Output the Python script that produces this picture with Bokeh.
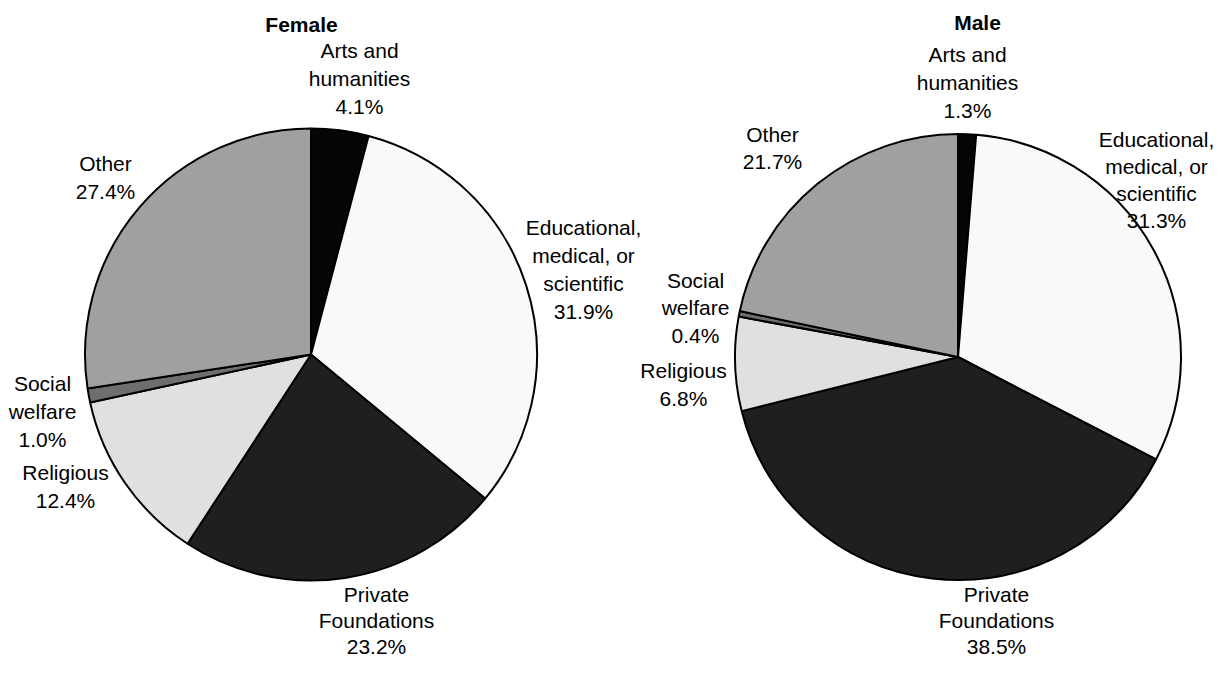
import math
from bokeh.plotting import figure
from bokeh.models import Range1d, ColumnDataSource
from bokeh.embed import file_html
from bokeh.resources import INLINE
from bokeh.core.properties import value

# ---- data ----
categories = ["Arts and humanities", "Educational, medical, or scientific",
              "Private Foundations", "Religious", "Social welfare", "Other"]
label_lines = [["Arts and", "humanities"],
               ["Educational,", "medical, or", "scientific"],
               ["Private", "Foundations"],
               ["Religious"],
               ["Social", "welfare"],
               ["Other"]]
female = [4.1, 31.9, 23.2, 12.4, 1.0, 27.4]
male = [1.3, 31.3, 38.5, 6.8, 0.4, 21.7]
colors = ["#050505", "#f8f9f9", "#1e1f1f", "#e0e0e0", "#6e6e6e", "#a0a0a0"]

W, H = 1216, 657
FONT = "Liberation Sans"

p = figure(width=W, height=H, x_range=Range1d(0, W), y_range=Range1d(0, H),
           output_backend="svg", toolbar_location=None, min_border=0,
           x_axis_location=None, y_axis_location=None)
p.grid.visible = False
p.outline_line_color = None
p.background_fill_color = "white"


def Y(page_y):
    return H - page_y


def draw_pie(vals, cx, cy, r, title, tx, ty, label_pos, spacings):
    total = sum(vals)
    starts, ends = [], []
    cum = 0.0
    for v in vals:
        starts.append(math.pi / 2 - 2 * math.pi * cum / total)
        cum += v
        ends.append(math.pi / 2 - 2 * math.pi * cum / total)
    src = ColumnDataSource(dict(start=starts, end=ends, color=colors,
                                cat=categories, val=vals))
    p.wedge(x=cx, y=Y(cy), radius=r, start_angle="start", end_angle="end",
            direction="clock", fill_color="color", line_color="black",
            line_width=2, source=src)
    p.text(x=[tx], y=[Y(ty)], text=[title], text_font=value(FONT),
           text_font_size="21px", text_font_style="bold", text_align="center",
           text_baseline="middle", text_color="black")
    xs, ys, ts = [], [], []
    for lines, v, (lx, ly), sp in zip(label_lines, vals, label_pos, spacings):
        all_lines = lines + ["%.1f%%" % v]
        n = len(all_lines)
        for i, t in enumerate(all_lines):
            xs.append(lx)
            ys.append(Y(ly + (i - (n - 1) / 2) * sp))
            ts.append(t)
    p.text(x=xs, y=ys, text=ts, text_font=value(FONT), text_font_size="21px",
           text_align="center", text_baseline="middle", text_color="black")


female_pos = [(359, 78), (583, 269), (376, 620), (65, 486), (42, 411), (105, 177)]
male_pos = [(967, 82), (1156, 179), (996, 620), (683, 384), (695, 307), (772, 147)]
f_sp = [28, 28, 26, 28, 28, 28]
m_sp = [28, 27, 26, 27.5, 27.5, 27]

draw_pie(female, 310.5, 354, 226, "Female", 301, 24, female_pos, f_sp)
draw_pie(male, 957.5, 356.5, 223, "Male", 977, 22, male_pos, m_sp)

open("out.html", "w").write(file_html(p, INLINE))
